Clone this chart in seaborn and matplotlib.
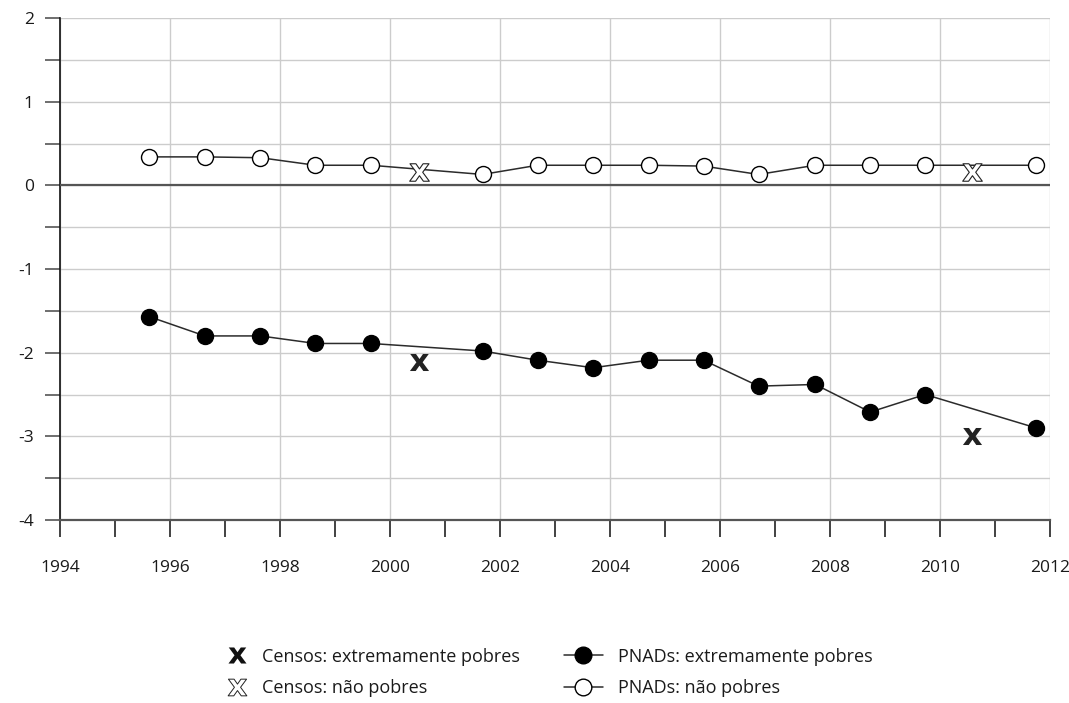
import matplotlib
matplotlib.use("Agg")
import matplotlib.pyplot as plt
from matplotlib.lines import Line2D
from matplotlib.ticker import MultipleLocator
import seaborn as sns
import pandas as pd

# ------------------------------------------------------------
# DATA
# ------------------------------------------------------------

pnad_years = [1995.62, 1996.63, 1997.64, 1998.64, 1999.65, 2001.68, 2002.68,
              2003.69, 2004.70, 2005.70, 2006.70, 2007.73, 2008.73, 2009.73,
              2011.75]
pnad_extreme = [-1.57, -1.80, -1.80, -1.89, -1.89, -1.98, -2.09,
                -2.18, -2.09, -2.09, -2.40, -2.38, -2.71, -2.50,
                -2.90]
pnad_nonpoor = [0.34, 0.34, 0.33, 0.24, 0.24, 0.13, 0.24,
                0.24, 0.24, 0.23, 0.13, 0.24, 0.24, 0.24,
                0.24]

census_years = [2000.52, 2010.59]
census_extreme = [-2.11, -3.00]
census_nonpoor = [0.16, 0.16]

labels = [
    "Censos: extremamente pobres",
    "Censos: não pobres",
    "PNADs: extremamente pobres",
    "PNADs: não pobres",
]

x_min, x_max = 1994, 2012
y_min, y_max = -4, 2

# ------------------------------------------------------------
# STYLE
# ------------------------------------------------------------

sns.set_theme(style="white")
plt.rcParams["font.family"] = ["Open Sans", "DejaVu Sans"]
plt.rcParams["axes.unicode_minus"] = False
plt.rcParams["mathtext.fontset"] = "dejavusans"

GRID = "#cccccc"
LINE = "#2b2b2b"
AXIS = "#555555"
TEXT = "#1a1a1a"
X_MARK = r"$\mathbf{x}$"

pnad = pd.DataFrame({
    "ano": pnad_years,
    "extremo": pnad_extreme,
    "nao_pobre": pnad_nonpoor,
})
censo = pd.DataFrame({
    "ano": census_years,
    "extremo": census_extreme,
    "nao_pobre": census_nonpoor,
})

fig = plt.figure(figsize=(10.69, 7.03), dpi=100)
ax = fig.add_axes([60.3 / 1069, 1 - 520 / 703, (1050 - 60.3) / 1069, (520 - 18) / 703])

# ------------------------------------------------------------
# SERIES
# ------------------------------------------------------------

sns.lineplot(data=pnad, x="ano", y="nao_pobre", ax=ax, color=LINE, lw=1.1,
             marker="o", markersize=11.5, markerfacecolor="white",
             markeredgecolor="black", markeredgewidth=1.0, zorder=4)
sns.lineplot(data=pnad, x="ano", y="extremo", ax=ax, color=LINE, lw=1.1,
             marker="o", markersize=11.5, markerfacecolor="black",
             markeredgecolor="black", markeredgewidth=1.0, zorder=4)

sns.scatterplot(data=censo, x="ano", y="extremo", ax=ax, marker=X_MARK,
                s=190, color="#222222", linewidth=0, zorder=5)
sns.scatterplot(data=censo, x="ano", y="nao_pobre", ax=ax, marker=X_MARK,
                s=200, facecolor="white", edgecolor="#222222",
                linewidth=0.8, zorder=5)

# ------------------------------------------------------------
# AXES
# ------------------------------------------------------------

ax.set_xlim(x_min, x_max)
ax.set_ylim(y_min, y_max)
ax.xaxis.set_major_locator(MultipleLocator(2))
ax.xaxis.set_minor_locator(MultipleLocator(1))
ax.yaxis.set_major_locator(MultipleLocator(1))
ax.yaxis.set_minor_locator(MultipleLocator(0.5))

ax.grid(axis="x", which="major", color=GRID, lw=1.0)
ax.grid(axis="y", which="both", color=GRID, lw=1.0)
ax.set_axisbelow(True)

ax.axhline(0, color=AXIS, lw=1.6, zorder=3)

for side in ["top", "right"]:
    ax.spines[side].set_visible(False)
ax.spines["left"].set_color("#111111")
ax.spines["left"].set_linewidth(1.2)
ax.spines["bottom"].set_color(AXIS)
ax.spines["bottom"].set_linewidth(1.6)

ax.tick_params(axis="x", which="both", direction="out", length=12, width=1.2,
               color="#222222", pad=17, labelsize=12.5, labelcolor=TEXT,
               bottom=True)
ax.tick_params(axis="y", which="both", direction="out", length=11, width=1.2,
               color="#555555", pad=8, labelsize=12.5, labelcolor=TEXT,
               left=True)
ax.tick_params(axis="y", which="minor", labelleft=False)

ax.set_xlabel("")
ax.set_ylabel("")

# ------------------------------------------------------------
# LEGENDS
# ------------------------------------------------------------

census_handles = [
    Line2D([], [], ls="none", marker=X_MARK, markersize=13,
           markerfacecolor="#111111", markeredgecolor="#111111",
           markeredgewidth=0),
    Line2D([], [], ls="none", marker=X_MARK, markersize=13.5,
           markerfacecolor="white", markeredgecolor="#222222",
           markeredgewidth=0.7),
]
pnad_handles = [
    Line2D([], [], color=LINE, lw=1.1, marker="o", markersize=12,
           markerfacecolor="black", markeredgecolor="black"),
    Line2D([], [], color=LINE, lw=1.1, marker="o", markersize=12,
           markerfacecolor="white", markeredgecolor="black"),
]

leg_y = 1 - 672.5 / 703
leg1 = fig.legend(census_handles, labels[:2], loc="center left",
                  bbox_to_anchor=(227.5 / 1069, leg_y), frameon=False,
                  fontsize=13, handlelength=1.1, handletextpad=0.8,
                  labelspacing=0.75, borderpad=0, borderaxespad=0)
leg2 = fig.legend(pnad_handles, labels[2:], loc="center left",
                  bbox_to_anchor=(564 / 1069, leg_y), frameon=False,
                  fontsize=13, handlelength=2.15, handletextpad=0.85,
                  labelspacing=0.75, borderpad=0, borderaxespad=0)
for leg in (leg1, leg2):
    for t in leg.get_texts():
        t.set_color(TEXT)

fig.savefig("out.png", dpi=100)
